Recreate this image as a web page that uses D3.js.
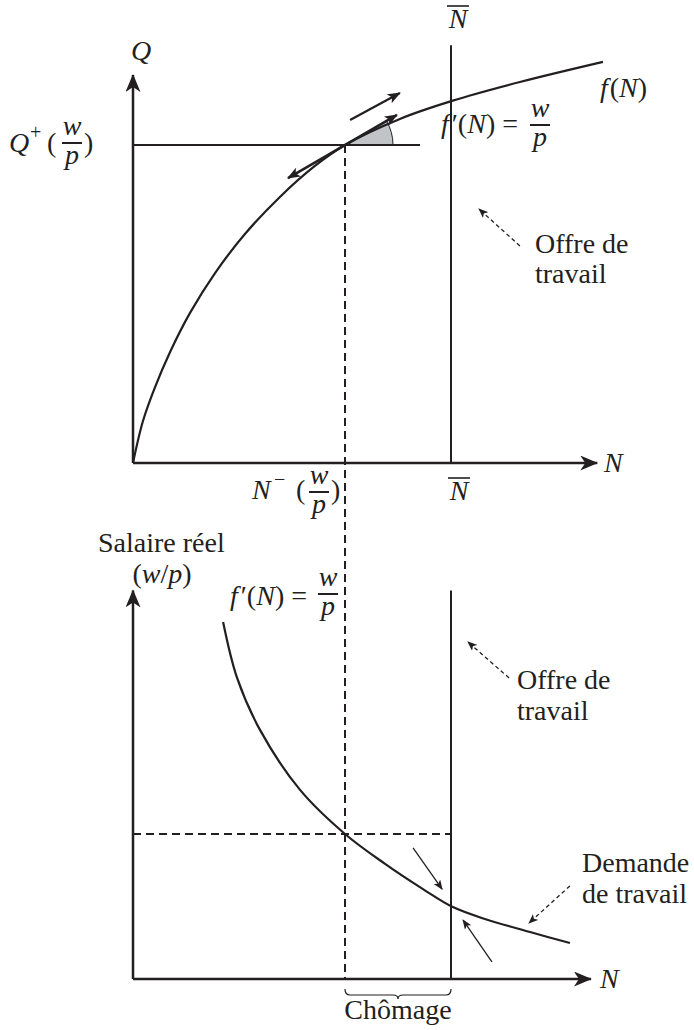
<!DOCTYPE html>
<html>
<head>
<meta charset="utf-8">
<script src="https://cdn.jsdelivr.net/npm/d3@7"></script>
<style>
  body { margin: 0; background: #fff; }
  text { font-family: "Liberation Serif", "DejaVu Serif", serif; font-size: 28px; fill: #231f20; }
  .m { font-style: italic; }
</style>
</head>
<body>
<svg id="chart" width="694" height="1030"></svg>
<script>
// production function f(N), upper panel (N, Q)
const prodN = [0, 0.47, 1.04, 1.75, 2.69, 3.87, 5.28, 6.93, 8.58, 10, 12.59, 15.05, 18.25, 22.17];
const prodQ = [0, 1.98, 3.58, 5.24, 7.08, 8.96, 10.80, 12.55, 14.01, 15, 16.23, 17.08, 17.97, 18.92];

// labour demand f'(N) = w/p, lower panel (N, w/p)
const demN = [4.25, 4.91, 5.99, 7.88, 10, 11.89, 13.68, 15.09, 16.60, 18.73, 20.61];
const demW = [12.31, 10.38, 8.59, 6.52, 5, 3.97, 3.10, 2.48, 2.07, 1.62, 1.24];

// key values
const nStar = 10, nBar = 15, qStar = 15, wStar = 5;
const qLineEnd = 13.54;           // end of the Q+(w/p) horizontal
const tangentDeg = 30;            // slope angle at N-(w/p)
const tanUp = [12.45, 16.42], tanDown = [7.31, 13.44];
const shiftArrow = [[10.24, 16.18], [12.59, 17.45]];
const offreTop = [[18.25, 10.24], [16.32, 11.98]];
const offreBot = [[17.74, 10.38], [15.80, 11.62]];
const demandeArrow = [[20.61, 3.21], [18.68, 1.93]];
const arrowDown = [[13.21, 4.52], [14.58, 3.10]];
const arrowUp = [[16.93, 0.59], [15.57, 2.03]];
// axis extents
const nMaxTop = 21.9, nMaxBot = 21.6, qMax = 18.3, wMax = 13.4, nBarTopQ = 19.7;

const svg = d3.select("#chart");
const ink = "#231f20";

const x = d3.scaleLinear().domain([0, nStar]).range([133, 345]);
const yQ = d3.scaleLinear().domain([0, qStar]).range([463, 145]);
const yW = d3.scaleLinear().domain([0, wStar]).range([979, 834]);

// --- markers ---
const defs = svg.append("defs");
function marker(id, w, h, path) {
    defs.append("marker")
        .attr("id", id)
        .attr("viewBox", `0 ${-h / 2} ${w} ${h}`)
        .attr("markerWidth", w).attr("markerHeight", h)
        .attr("refX", w - 1).attr("refY", 0)
        .attr("markerUnits", "userSpaceOnUse")
        .attr("orient", "auto-start-reverse")
        .append("path").attr("d", path).attr("fill", ink);
}
marker("stealth", 18, 15, "M0,-7.5 L18,0 L0,7.5 L5,0 Z");
marker("tip", 10, 8, "M0,-4 L10,0 L0,4 L2.5,0 Z");
marker("tipb", 13, 10, "M0,-5 L13,0 L0,5 L3,0 Z");

function seg(x1, y1, x2, y2, w) {
    return svg.append("line")
        .attr("x1", x1).attr("y1", y1).attr("x2", x2).attr("y2", y2)
        .attr("stroke", ink).attr("stroke-width", w);
}

// --- upper panel ---
// shaded angle at the tangency point
svg.append("path")
    .attr("transform", `translate(${x(nStar)}, ${yQ(qStar)})`)
    .attr("d", d3.arc()({ innerRadius: 0, outerRadius: 48,
        startAngle: Math.PI / 2 - tangentDeg * Math.PI / 180, endAngle: Math.PI / 2 }))
    .attr("fill", "#c2c3c7").attr("stroke", ink).attr("stroke-width", 1);

seg(x(0), yQ(0), x(nMaxTop), yQ(0), 2.5).attr("marker-end", "url(#stealth)");
seg(x(0), yQ(0), x(0), yQ(qMax), 2.5).attr("marker-end", "url(#stealth)");
seg(x(0), yQ(qStar), x(qLineEnd), yQ(qStar), 2);
seg(x(nBar), yQ(0), x(nBar), yQ(nBarTopQ), 2);

const prodLine = d3.line().x(d => x(d[0])).y(d => yQ(d[1])).curve(d3.curveCatmullRom.alpha(0.5));
svg.append("path")
    .attr("d", prodLine(prodN.map((n, i) => [n, prodQ[i]])))
    .attr("fill", "none").attr("stroke", ink).attr("stroke-width", 2.2);

// tangent double arrow
seg(x(tanDown[0]), yQ(tanDown[1]), x(tanUp[0]), yQ(tanUp[1]), 2.5)
    .attr("marker-start", "url(#tipb)").attr("marker-end", "url(#tipb)");
seg(x(shiftArrow[0][0]), yQ(shiftArrow[0][1]), x(shiftArrow[1][0]), yQ(shiftArrow[1][1]), 2.2)
    .attr("marker-end", "url(#tipb)");

// dashed link between panels
seg(x(nStar), yQ(qStar), x(nStar), yW(0), 2).attr("stroke-dasharray", "8,5");

seg(x(offreTop[0][0]), yQ(offreTop[0][1]), x(offreTop[1][0]), yQ(offreTop[1][1]), 1.3)
    .attr("stroke-dasharray", "4,3").attr("marker-end", "url(#tip)");

// --- lower panel ---
seg(x(0), yW(0), x(nMaxBot), yW(0), 2.5).attr("marker-end", "url(#stealth)");
seg(x(0), yW(0), x(0), yW(wMax), 2.5).attr("marker-end", "url(#stealth)");
seg(x(nBar), yW(0), x(nBar), yW(wMax), 2);
seg(x(0), yW(wStar), x(nBar), yW(wStar), 2).attr("stroke-dasharray", "8,5");

const demLine = d3.line().x(d => x(d[0])).y(d => yW(d[1])).curve(d3.curveCatmullRom.alpha(0.5));
svg.append("path")
    .attr("d", demLine(demN.map((n, i) => [n, demW[i]])))
    .attr("fill", "none").attr("stroke", ink).attr("stroke-width", 2.2);

seg(x(arrowDown[0][0]), yW(arrowDown[0][1]), x(arrowDown[1][0]), yW(arrowDown[1][1]), 1.3)
    .attr("marker-end", "url(#tip)");
seg(x(arrowUp[0][0]), yW(arrowUp[0][1]), x(arrowUp[1][0]), yW(arrowUp[1][1]), 1.3)
    .attr("marker-end", "url(#tip)");
seg(x(offreBot[0][0]), yW(offreBot[0][1]), x(offreBot[1][0]), yW(offreBot[1][1]), 1.3)
    .attr("stroke-dasharray", "4,3").attr("marker-end", "url(#tip)");
seg(x(demandeArrow[0][0]), yW(demandeArrow[0][1]), x(demandeArrow[1][0]), yW(demandeArrow[1][1]), 1.3)
    .attr("stroke-dasharray", "4,3").attr("marker-end", "url(#tip)");

// brace under the unemployment gap
const b1 = x(nStar), b2 = x(nBar), bm = (b1 + b2) / 2;
svg.append("path")
    .attr("d", `M${b1},989 Q${b1},995 ${b1 + 5},995 L${bm - 5},995 Q${bm},995 ${bm},999 Q${bm},995 ${bm + 5},995 L${b2 - 5},995 Q${b2},995 ${b2},989`)
    .attr("fill", "none").attr("stroke", ink).attr("stroke-width", 1.2);

// --- text ---
function txt(xp, yp, s, cls, anchor, size) {
    const t = svg.append("text").attr("x", xp).attr("y", yp).text(s)
        .attr("text-anchor", anchor || "start");
    if (cls) t.attr("class", cls);
    if (size) t.style("font-size", size + "px");
    return t;
}
function frac(cx, barY) {
    txt(cx, barY - 8, "w", "m", "middle");
    seg(cx - 10, barY, cx + 10, barY, 2);
    txt(cx, barY + 21, "p", "m", "middle");
}
function nbar(cx, base) {
    txt(cx, base, "N", "m", "middle");
    seg(cx - 11, base - 22, cx + 11, base - 22, 1.6);
}
function fprime(xEnd, base) {
    const t = txt(xEnd, base, "", null, "end");
    t.append("tspan").attr("class", "m").text("f");
    t.append("tspan").attr("dx", 3).text("′(");
    t.append("tspan").attr("class", "m").text("N");
    t.append("tspan").text(") =");
}

txt(141, 60, "Q", "m", "middle");
txt(9, 152, "Q", "m");
txt(30, 139, "+", null, "start", 20);
txt(47, 152, "(");
frac(72, 143);
txt(84, 152, ")");

fprime(518, 133);
frac(540, 125);

const fn = txt(600, 97, "");
fn.append("tspan").attr("class", "m").text("f");
fn.append("tspan").attr("dx", 2).text("(");
fn.append("tspan").attr("class", "m").text("N");
fn.append("tspan").text(")");

nbar(x(nBar) + 7, 28);
nbar(x(nBar) + 8, 500);
txt(604, 472, "N", "m");
txt(600, 988, "N", "m");

txt(252, 499, "N", "m");
txt(274, 486, "−", null, "start", 20);
txt(296, 499, "(");
frac(319, 492);
txt(331, 499, ")");

txt(535, 253, "Offre de");
txt(535, 283, "travail");

txt(98, 552, "Salaire réel");
const wp = txt(162, 583, "", null, "middle");
wp.append("tspan").text("(");
wp.append("tspan").attr("class", "m").text("w");
wp.append("tspan").text("/");
wp.append("tspan").attr("class", "m").text("p");
wp.append("tspan").text(")");

fprime(307, 605);
frac(328, 594);

txt(517, 689, "Offre de");
txt(517, 720, "travail");
txt(582, 872, "Demande");
txt(582, 903, "de travail");
txt(bm, 1019, "Chômage", null, "middle");
</script>
</body>
</html>
